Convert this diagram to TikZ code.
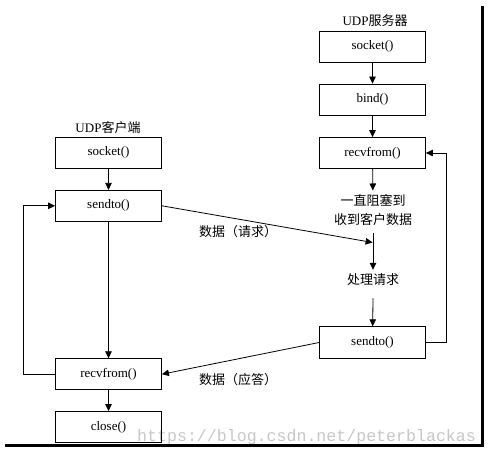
\documentclass[tikz,border=0pt]{standalone}
\usepackage{fontspec}
\setmainfont{Liberation Serif}
\setmonofont{Liberation Mono}
\newfontfamily\cjk{Noto Sans CJK SC}
\usetikzlibrary{arrows.meta}
\begin{document}
\begin{tikzpicture}[x=1pt,y=-1pt,
  box/.style={draw,line width=0.8pt,minimum width=106pt,minimum height=31pt,inner sep=0pt,font=\fontsize{13}{15}\selectfont},
  lbl/.style={inner sep=0pt,font=\fontsize{13}{18.5}\selectfont\cjk,align=center},
  conn/.style={line width=0.8pt},
  arr/.style={conn,-{Triangle[length=7pt,width=6.5pt]}},
  frame/.style={line width=2.6pt}]
\useasboundingbox (0,0) rectangle (489,457);
% watermark
\node[anchor=base west,inner sep=0pt,text=black!22,font=\fontsize{16.6}{18}\selectfont\ttfamily] (wm) at (137,441) {https://blog.csdn.net/peterblackas};
% frame
\coordinate (fr1) at (482.3,6.5);
\coordinate (fr2) at (482.3,445.6);
\coordinate (fb1) at (5,445.6);
\draw[frame] (fr1) -- (fr2);
\draw[frame] (fb1) -- ([xshift=1.3pt]fr2);
% server
\node[lbl,font=\fontsize{13}{15}\selectfont] (stitle) at (375,20.5) {UDP{\cjk 服务器}};
\node[box] (ssock) at (372.5,46.7) {socket()};
\node[box] (sbind) at (372.5,99.5) {bind()};
\node[box] (srecv) at (372.5,153) {recvfrom()};
\node[lbl,inner sep=4pt] (swait) at (373,210) {一直阻塞到\\收到客户数据};
\coordinate (sj) at (373,233);
\coordinate (sreq) at (372.6,242.5);
\node[lbl,inner sep=4pt] (sproc) at (373,280) {处理请求};
\node[box,minimum height=31.6pt] (ssend) at (372.5,342.5) {sendto()};
\coordinate (sr) at (446.7,0);
% client
\node[lbl,font=\fontsize{13}{15}\selectfont] (ctitle) at (108,127.7) {UDP{\cjk 客户端}};
\node[box] (csock) at (108.5,152.8) {socket()};
\node[box] (csend) at (108.5,205.8) {sendto()};
\node[box] (crecv) at (108.5,374.2) {recvfrom()};
\node[box] (cclose) at (108.5,427) {close()};
\coordinate (cl) at (23.3,0);
% labels
\node[lbl] (lreq) at (238,231.7) {数据（请求）};
\node[lbl] (lrep) at (238,380) {数据（应答）};
% server arrows
\draw[arr] (ssock) -- (sbind);
\draw[arr] (sbind) -- (srecv);
\draw[arr] (srecv) -- (swait);
\draw[arr] (sj) -- (sproc);
\draw[arr] ([yshift=-8pt]sproc.south) -- (ssend);
\draw[arr] (ssend.east) -| (sr |- srecv.east) -- (srecv.east);
% client arrows
\draw[arr] (csock) -- (csend);
\draw[arr] (csend) -- (crecv);
\draw[arr] (crecv) -- (cclose);
\draw[arr] (crecv.west) -| (cl |- csend.west) -- (csend.west);
% data arrows
\draw[arr] (csend.east) -- (sreq);
\draw[arr] (ssend.west) -- (crecv.east);
\end{tikzpicture}
\end{document}
